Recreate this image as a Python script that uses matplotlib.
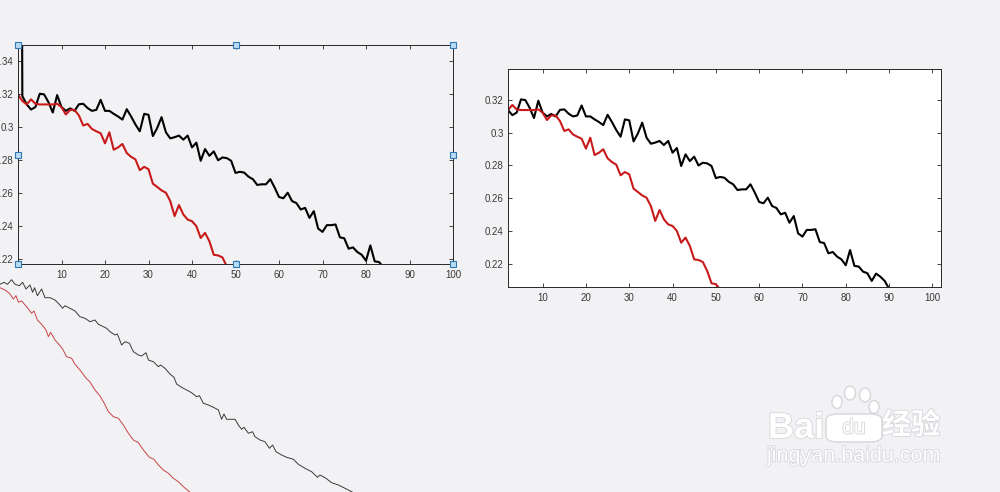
import numpy as np
import matplotlib
matplotlib.use("Agg")
from matplotlib import pyplot as plt
from matplotlib.ticker import FuncFormatter
from matplotlib.patches import Ellipse, FancyBboxPatch
import matplotlib.patheffects as pe

# error per step (x = 0, 1, 2, ...)
black_err = [1.0, 0.319, 0.3139, 0.3108, 0.3123, 0.3204, 0.320, 0.3153, 0.309, 0.3196,
             0.3123, 0.310, 0.3115, 0.310, 0.314, 0.3143, 0.3117, 0.310, 0.3106, 0.3167,
             0.310, 0.310, 0.3082, 0.3066, 0.3047, 0.311, 0.3066, 0.3017, 0.2976, 0.3082,
             0.3076, 0.2947, 0.2996, 0.3062, 0.297, 0.2933, 0.294, 0.295, 0.2925, 0.295,
             0.2878, 0.2907, 0.2797, 0.2868, 0.2827, 0.2854, 0.280, 0.2817, 0.2813, 0.2797,
             0.2723, 0.273, 0.2725, 0.270, 0.2685, 0.265, 0.2654, 0.2654, 0.2685, 0.2634,
             0.2577, 0.2569, 0.2603, 0.2552, 0.254, 0.2501, 0.2511, 0.245, 0.2491, 0.2385,
             0.2365, 0.2406, 0.2406, 0.241, 0.2332, 0.2326, 0.2263, 0.2271, 0.2243, 0.2226,
             0.219, 0.2283, 0.2186, 0.2182, 0.2151, 0.2141, 0.2094, 0.2139, 0.212, 0.2094,
             0.2047, 0.201, 0.199]
red_err = [0.320, 0.316, 0.3139, 0.317, 0.3143, 0.3139, 0.3139, 0.3139, 0.3139, 0.3143,
           0.3123, 0.3078, 0.3106, 0.3106, 0.3072, 0.3011, 0.3021, 0.299, 0.2976, 0.2964,
           0.2903, 0.297, 0.2864, 0.2878, 0.2899, 0.2844, 0.2821, 0.2805, 0.274, 0.276,
           0.2746, 0.2658, 0.2638, 0.2617, 0.2603, 0.2552, 0.2461, 0.2528, 0.2471, 0.244,
           0.243, 0.240, 0.2328, 0.2359, 0.2308, 0.2226, 0.2222, 0.221, 0.2155, 0.208,
           0.2074, 0.2043, 0.201]

# the thin, zoomed-out copy in the lower left
thin_black_x = [0, 2, 3.7, 5.8, 7.5, 9.7, 11.3, 13, 15, 16.3, 17.3, 18.7, 20.8, 22.5, 25,
                27.5, 30, 31.3, 32.5, 35, 37.5, 40, 42.5, 45, 47.5, 49.2, 51.7, 53.3, 55,
                57.5, 58.7, 60.8, 62.5, 64.7, 66.7, 69.2, 70.8, 73, 74.2, 76.7, 79.2, 80.3,
                82.5, 85, 87, 88.3, 90.8, 93.3, 95.8, 98.3, 99.7, 101.7, 104.2, 106.7, 109.2,
                110.8, 112, 113.3, 115, 117.5, 119.2, 120.8, 122, 124.2, 126.3, 127.5, 130,
                132.5, 134.7, 136.3, 138, 140.8, 143.3, 146.7, 149.2, 152.5, 155.8, 158.7,
                160, 163, 165.8, 169.2, 172.5, 175.8, 180]
thin_black_y = [0.3107, 0.3127, 0.3107, 0.3153, 0.3107, 0.3093, 0.3127, 0.306, 0.310, 0.3027,
                0.3073, 0.2993, 0.306, 0.2973, 0.2973, 0.295, 0.290, 0.2867, 0.2893, 0.2867,
                0.284, 0.2783, 0.2767, 0.2733, 0.275, 0.2707, 0.2683, 0.2667, 0.2633, 0.260,
                0.261, 0.250, 0.2533, 0.2517, 0.2433, 0.240, 0.239, 0.2423, 0.235, 0.2333,
                0.2283, 0.230, 0.2267, 0.221, 0.2177, 0.211, 0.2077, 0.205, 0.2023, 0.1983,
                0.1993, 0.1917, 0.190, 0.1877, 0.185, 0.1757, 0.181, 0.1757, 0.1757, 0.1757,
                0.170, 0.1657, 0.1677, 0.1617, 0.1633, 0.1583, 0.155, 0.1533, 0.1467, 0.150,
                0.1433, 0.140, 0.1377, 0.1357, 0.1307, 0.1267, 0.1233, 0.1177, 0.120, 0.1167,
                0.1123, 0.110, 0.1067, 0.1033, 0.098]
thin_red_x = [0, 2.5, 4.7, 6.7, 8, 9.2, 10.8, 13.3, 15.8, 17, 18.7, 20.8, 23, 24.2, 25.3,
              27.5, 29.7, 31.3, 33.3, 35.8, 37.5, 40, 43, 45, 47.5, 50, 51.7, 54.2, 56.7,
              59.2, 61.7, 64.2, 66.7, 69.2, 71.7, 74.7, 77, 79.2, 81.7, 84.2, 86.7, 89.2,
              91.7, 94.7, 97.5]
thin_red_y = [0.3073, 0.305, 0.3017, 0.296, 0.2993, 0.2927, 0.294, 0.2883, 0.2817, 0.284,
              0.275, 0.2707, 0.265, 0.2583, 0.2627, 0.255, 0.250, 0.246, 0.2383, 0.2367,
              0.2307, 0.225, 0.217, 0.213, 0.205, 0.199, 0.1933, 0.1833, 0.1783, 0.1767,
              0.170, 0.1617, 0.155, 0.1523, 0.145, 0.1377, 0.1357, 0.130, 0.125, 0.1217,
              0.1167, 0.1133, 0.1083, 0.1033, 0.098]

x_ticks = [10, 20, 30, 40, 50, 60, 70, 80, 90, 100]

BG = '#f2f1f4'
DARK = '#262626'
RED = '#c81a1a'

plt.rcParams['font.family'] = ['Liberation Sans', 'Noto Sans CJK SC', 'DejaVu Sans']

fig = plt.figure(figsize=(10, 4.92), dpi=100, facecolor=BG)


def style_axes(ax):
    for s in ax.spines.values():
        s.set_color(DARK)
        s.set_linewidth(0.7)
    ax.tick_params(direction='in', length=3, width=0.6, color=DARK, labelcolor='#3a3a3a',
                   labelsize=7, top=True, right=True, pad=3)
    ax.tick_params(axis='x', pad=4.5)
    ax.set_xticks(x_ticks)
    ax.yaxis.set_major_formatter(FuncFormatter(lambda v, p: '%g' % round(v, 4)))


# zoomed-out copy, no axes drawn
ax3 = fig.add_axes([0.0, 0.0, 0.4, 217 / 492])
ax3.set_axis_off()
ax3.plot(thin_black_x, thin_black_y, color='#3a3a3a', lw=0.7)
ax3.plot(thin_red_x, thin_red_y, color='#c84545', lw=0.7)
ax3.set_xlim(0, 200)
ax3.set_ylim(0.103, 0.32)

# left axes (selected in the editor)
ax1 = fig.add_axes([0.018, 1 - 264 / 492, 0.435, 219 / 492])
ax1.set_facecolor(BG)
ax1.plot(np.arange(len(black_err)), black_err, color='black', lw=1.5)
ax1.plot(np.arange(len(red_err)), red_err, color=RED, lw=1.5)
ax1.set_xlim(0, 100)
ax1.set_ylim(0.217, 0.35)
ax1.set_yticks([0.22, 0.24, 0.26, 0.28, 0.3, 0.32, 0.34])
style_axes(ax1)
# selection handles
ax1.plot([0, 0.5, 1, 0, 1, 0, 0.5, 1], [1, 1, 1, 0.5, 0.5, 0, 0, 0], 's',
         transform=ax1.transAxes, clip_on=False, ms=4.5, mfc='#b8dcf2',
         mec='#2f78b3', mew=0.8, zorder=10)

# right axes
ax2 = fig.add_axes([0.508, 1 - 287 / 492, 0.433, 218 / 492])
ax2.set_facecolor('white')
ax2.plot(np.arange(len(black_err)), black_err, color='black', lw=1.5)
ax2.plot(np.arange(len(red_err)), red_err, color=RED, lw=1.5)
ax2.set_xlim(2, 102)
ax2.set_ylim(0.2057, 0.339)
ax2.set_yticks([0.22, 0.24, 0.26, 0.28, 0.3, 0.32])
style_axes(ax2)

# watermark
stroke = [pe.withStroke(linewidth=1.2, foreground='#d6d6db')]
fig.text(0.768, 1 - 438 / 492, 'Bai', fontsize=26, fontweight='bold', color='white',
         path_effects=stroke)
for cx, cy, w, h in [(837, 402, 10, 13), (850, 393, 11, 14), (865, 395, 11, 14), (874, 407, 10, 13)]:
    fig.patches.append(Ellipse((cx / 1000, 1 - cy / 492), w / 1000, h / 492,
                               transform=fig.transFigure, facecolor='white',
                               edgecolor='#d6d6db', lw=1.0))
fig.patches.append(FancyBboxPatch((830 / 1000, 1 - 440 / 492), 48 / 1000, 24 / 492,
                                  boxstyle='round,pad=0.004,rounding_size=0.012',
                                  transform=fig.transFigure, facecolor='white',
                                  edgecolor='#d6d6db', lw=1.0))
fig.text(0.854, 1 - 428 / 492, 'du', fontsize=15, color='white', ha='center', va='center',
         path_effects=stroke)
fig.text(0.882, 1 - 425 / 492, '经验', fontsize=21, fontweight='bold', color='white',
         va='center', family=['Noto Sans CJK SC', 'DejaVu Sans'], path_effects=stroke)
fig.text(0.767, 1 - 456 / 492, 'jingyan.baidu.com', fontsize=15.5, color='white',
         va='center', path_effects=stroke)

fig.savefig('out.png', dpi=100, facecolor=BG)
